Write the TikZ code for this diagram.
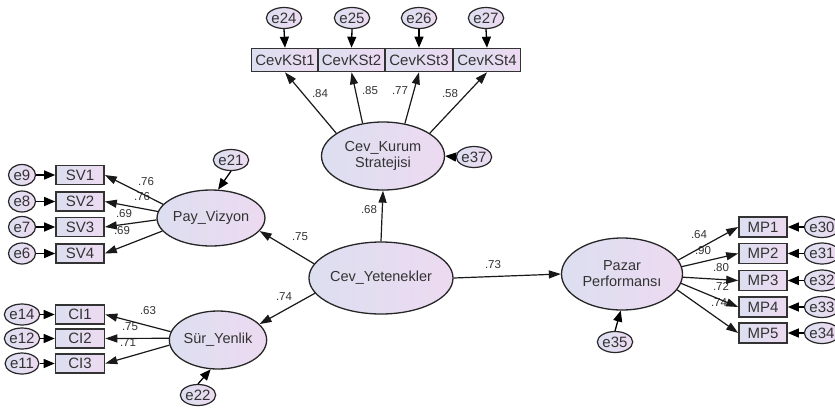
\documentclass[tikz,border=0pt]{standalone}
\usepackage{fontspec}
\setmainfont{Liberation Sans}
\usetikzlibrary{arrows.meta,shapes.geometric}
\definecolor{fillL}{HTML}{DCDFF0}
\definecolor{fillR}{HTML}{EDDAF1}
\definecolor{lbltxt}{HTML}{333333}
\begin{document}
\begin{tikzpicture}[x=1pt,y=-1pt,
  lat/.style={ellipse, draw=black!85, line width=1.3pt, left color=fillL, right color=fillR,
    inner sep=0pt, align=center, text=black!80, font=\fontsize{14.5}{16}\selectfont},
  obs/.style={rectangle, draw=black!80, line width=1.6pt, left color=fillL, right color=fillR,
    inner sep=0pt, text=black!80, font=\fontsize{15}{16}\selectfont},
  err/.style={ellipse, draw=black!85, line width=1.2pt, left color=fillL, right color=fillR,
    minimum width=27pt, minimum height=21pt, inner sep=0pt, text=black!80,
    font=\fontsize{15}{15}\selectfont},
  pth/.style={-{Triangle[length=12pt,width=8pt]}, line width=1.2pt, black!90},
  eth/.style={-{Triangle[length=11pt,width=9pt]}, line width=1.3pt, black},
  lbl/.style={font=\fontsize{11.5}{12}\selectfont, text=lbltxt, inner sep=0pt}
]
\useasboundingbox (0,0) rectangle (835,408);
\fill[white] (0,0) rectangle (835,408);

% latent variables
\node[lat, minimum width=123pt, minimum height=68pt] (kurum) at (383,156) {Cev\_Kurum\\Stratejisi};
\node[lat, minimum width=123pt, minimum height=72pt] (yet) at (381,278) {Cev\_Yetenekler};
\node[lat, minimum width=98pt, minimum height=56pt] (pay) at (211,218) {Pay\_Vizyon};
\node[lat, minimum width=97pt, minimum height=58pt] (sur) at (218,340) {Sür\_Yenlik};
\node[lat, minimum width=121pt, minimum height=72pt] (paz) at (622,274) {Pazar\\Performansı};

% observed: CevKSt
\foreach \n/\x in {1/285,2/351.5,3/419,4/487}{
  \node[obs, minimum width=67pt, minimum height=23pt] (k\n) at (\x,60) {CevKSt\n};
}
% SV
\node[obs, minimum width=48pt, minimum height=19pt] (sv1) at (80,175) {SV1};
\node[obs, minimum width=48pt, minimum height=19pt] (sv2) at (80,201.5) {SV2};
\node[obs, minimum width=48pt, minimum height=19pt] (sv3) at (80,227) {SV3};
\node[obs, minimum width=48pt, minimum height=19pt] (sv4) at (80,253.5) {SV4};
% CI
\node[obs, minimum width=49pt, minimum height=19pt] (ci1) at (80,314.5) {CI1};
\node[obs, minimum width=49pt, minimum height=19pt] (ci2) at (80,338.5) {CI2};
\node[obs, minimum width=49pt, minimum height=19pt] (ci3) at (80,363.5) {CI3};
% MP
\node[obs, minimum width=48pt, minimum height=20pt] (mp1) at (763,227) {MP1};
\node[obs, minimum width=48pt, minimum height=20pt] (mp2) at (763,253.5) {MP2};
\node[obs, minimum width=48pt, minimum height=20pt] (mp3) at (763,280.5) {MP3};
\node[obs, minimum width=48pt, minimum height=20pt] (mp4) at (763,307) {MP4};
\node[obs, minimum width=48pt, minimum height=20pt] (mp5) at (763,333) {MP5};

% error terms
\node[err] (e24) at (284,18) {e24};
\node[err] (e25) at (352,18) {e25};
\node[err] (e26) at (419,18) {e26};
\node[err] (e27) at (486,18) {e27};
\node[err, minimum width=24pt] (e37) at (474,157) {e37};
\node[err] (e21) at (231,160) {e21};
\node[err] (e22) at (198,395) {e22};
\node[err] (e35) at (615,342) {e35};
\node[err] (e9) at (22,175) {e9};
\node[err] (e8) at (22,201.5) {e8};
\node[err] (e7) at (22,227) {e7};
\node[err] (e6) at (22,253.5) {e6};
\node[err] (e14) at (22,314.5) {e14};
\node[err] (e12) at (22,338.5) {e12};
\node[err] (e11) at (22,363.5) {e11};
\node[err] (e30) at (822,227) {e30};
\node[err] (e31) at (822,253.5) {e31};
\node[err] (e32) at (822,280.5) {e32};
\node[err] (e33) at (822,307) {e33};
\node[err] (e34) at (822,333) {e34};

% labels
\node[lbl] (l84) at (320,94) {.84};
\node[lbl] (l85) at (370,91) {.85};
\node[lbl] (l77) at (400,91) {.77};
\node[lbl] (l58) at (450,94) {.58};
\node[lbl] (l68) at (369,210) {.68};
\node[lbl] (l75) at (300,237) {.75};
\node[lbl] (l74) at (284,297) {.74};
\node[lbl] (l73) at (493,265) {.73};
\node[lbl] (ls1) at (146,182) {.76};
\node[lbl] (ls2) at (142,197) {.76};
\node[lbl] (ls3) at (124,214) {.69};
\node[lbl] (ls4) at (122,231) {.69};
\node[lbl] (lc1) at (148,311) {.63};
\node[lbl] (lc2) at (130,327) {.75};
\node[lbl] (lc3) at (128,343) {.71};
\node[lbl] (lm1) at (699,235) {.64};
\node[lbl] (lm2) at (703,251) {.90};
\node[lbl] (lm3) at (721,268) {.80};
\node[lbl] (lm4) at (721,286) {.72};
\node[lbl] (lm5) at (719,303) {.74};

% structural paths
\draw[pth] (yet.north) -- (kurum.south);
\draw[pth] (yet.168) -- (pay.-15);
\draw[pth] (yet.193) -- (sur.21);
\draw[pth] (yet.east) -- (paz.west);

% measurement paths
\draw[pth] (kurum.154) -- (k1.south);
\draw[pth] (kurum.122) -- (k2.south);
\draw[pth] (kurum.56) -- (k3.south);
\draw[pth] (kurum.26) -- (k4.south);

\draw[pth] (pay.164) -- (sv1.east);
\draw[pth] (pay.173) -- (sv2.east);
\draw[pth] (pay.182) -- (sv3.east);
\draw[pth] (pay.195) -- (sv4.east);

\draw[pth] (sur.170) -- (ci1.east);
\draw[pth] (sur.178) -- (ci2.east);
\draw[pth] (sur.186) -- (ci3.east);

\draw[pth] (paz.14) -- (mp1.west);
\draw[pth] (paz.7) -- (mp2.west);
\draw[pth] (paz.-3) -- (mp3.west);
\draw[pth] (paz.-9) -- (mp4.west);
\draw[pth] (paz.-16) -- (mp5.west);

% error paths
\foreach \e/\k in {e24/k1,e25/k2,e26/k3,e27/k4}{\draw[eth] (\e.south) -- (\k.north);}
\draw[eth] (e37.west) -- (kurum.east);
\draw[eth] (e21.south) -- (pay.76);
\draw[eth] (e22.north) -- (sur.-104);
\draw[eth] (e35.north) -- (paz.-92);
\foreach \e/\k in {e9/sv1,e8/sv2,e7/sv3,e6/sv4,e14/ci1,e12/ci2,e11/ci3}{\draw[eth] (\e.east) -- (\k.west);}
\foreach \e/\k in {e30/mp1,e31/mp2,e32/mp3,e33/mp4,e34/mp5}{\draw[eth] (\e.west) -- (\k.east);}
\end{tikzpicture}
\end{document}
